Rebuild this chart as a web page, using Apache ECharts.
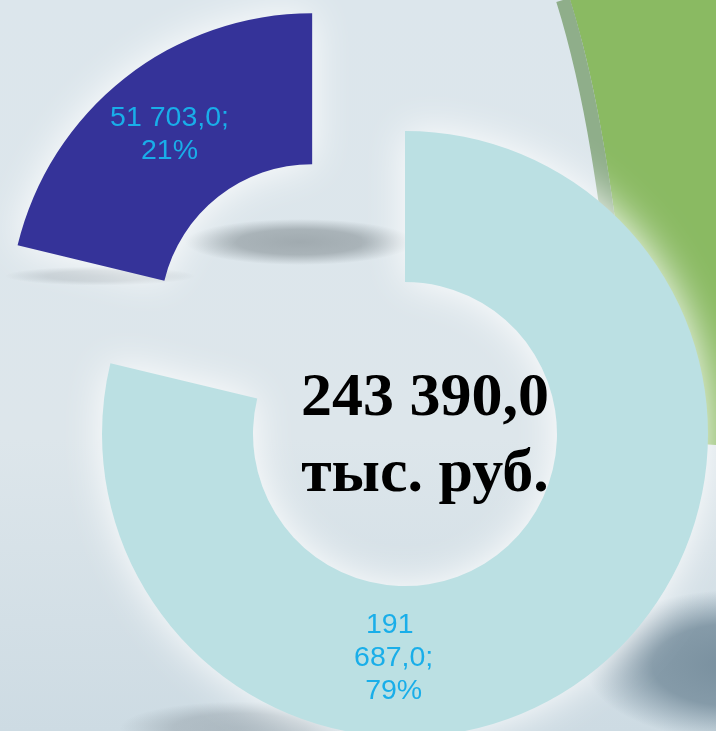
<!DOCTYPE html>
<html lang="ru">
<head>
<meta charset="UTF-8">
<title>Структура</title>
<style>
  html, body { margin: 0; padding: 0; }
  #main { width: 716px; height: 731px; }
</style>
</head>
<body>
<div id="main"></div>
<script src="https://cdn.jsdelivr.net/npm/echarts@6/dist/echarts.min.js"></script>
<script>
// data
const sliceNames = ['191 687,0', '51 703,0'];
const sliceValues = [191687.0, 51703.0];
const sliceColors = ['#bbe0e3', '#353399'];
const totalText = '243 390,0';
const unitText = 'тыс. руб.';

function fmt(v) {
    const parts = v.toFixed(1).split('.');
    return parts[0].replace(/\B(?=(\d{3})+(?!\d))/g, ' ') + ',' + parts[1];
}

// sample a cubic curve for the decorative green shape
function bez(p0, p1, p2, p3, n) {
    const pts = [];
    for (let i = 0; i <= n; i++) {
        const t = i / n, u = 1 - t;
        pts.push([
            u * u * u * p0[0] + 3 * u * u * t * p1[0] + 3 * u * t * t * p2[0] + t * t * t * p3[0],
            u * u * u * p0[1] + 3 * u * u * t * p1[1] + 3 * u * t * t * p2[1] + t * t * t * p3[1]
        ]);
    }
    return pts;
}
const greenEdge = bez([570, 0], [595, 80], [615, 180], [640, 440], 30);

// soft blurred blob (circle squashed vertically)
function blob(x, y, r, sy, rgb, a) {
    return {
        type: 'circle', z: 0, silent: true,
        x: x, y: y, scaleY: sy,
        shape: { cx: 0, cy: 0, r: r },
        style: {
            fill: {
                type: 'radial', x: 0.5, y: 0.5, r: 0.5,
                colorStops: [
                    { offset: 0, color: 'rgba(' + rgb + ',' + a + ')' },
                    { offset: 0.55, color: 'rgba(' + rgb + ',' + (a * 0.85) + ')' },
                    { offset: 1, color: 'rgba(' + rgb + ',0)' }
                ]
            }
        }
    };
}

const pieData = sliceValues.map((v, i) => ({
    name: sliceNames[i],
    value: v,
    selected: i === 1,
    itemStyle: { color: sliceColors[i] },
    label: i === 0 ? { width: 85, overflow: 'break' } : {}
}));

var myChart = echarts.init(document.getElementById('main'));
var option = {
    animation: false,
    backgroundColor: {
        type: 'linear', x: 0, y: 0, x2: 0, y2: 1,
        colorStops: [
            { offset: 0, color: '#dce6ec' },
            { offset: 0.6, color: '#dde6eb' },
            { offset: 1, color: '#cddbe3' }
        ]
    },
    graphic: [
        // green shape, top right
        {
            type: 'polygon', z: 0, silent: true,
            shape: { points: greenEdge.concat([[716, 445], [716, 0]]) },
            style: { fill: '#8aba62' }
        },
        {
            type: 'bezierCurve', z: 0, silent: true,
            shape: { x1: 563, y1: 0, cpx1: 588, cpy1: 80, cpx2: 608, cpy2: 180, x2: 633, y2: 440 },
            style: { fill: null, stroke: '#8fae8a', lineWidth: 14 }
        },
        // blue-grey smear, bottom right
        blob(735, 665, 150, 0.5, '120,143,158', 1),
        // soft shadows
        blob(240, 728, 120, 0.22, '150,162,170', 0.6),
        blob(300, 242, 115, 0.2, '150,160,165', 0.85),
        blob(100, 276, 95, 0.1, '170,180,186', 0.6),
        // total in the hole
        {
            type: 'text', z: 100, silent: true,
            x: 425, y: 437,
            style: {
                text: totalText + '\n' + unitText,
                fontFamily: '"Liberation Serif", "Times New Roman", serif',
                fontWeight: 'bold',
                fontSize: 62,
                lineHeight: 76,
                fill: '#000000',
                align: 'center',
                verticalAlign: 'middle'
            }
        }
    ],
    series: [
        {
            type: 'pie',
            center: [405, 434],
            radius: [152, 303],
            startAngle: 90,
            clockwise: true,
            selectedMode: 'single',
            selectedOffset: 150,
            silent: true,
            data: pieData,
            itemStyle: {
                shadowBlur: 40,
                shadowColor: 'rgba(255,255,255,1)'
            },
            select: { itemStyle: { color: sliceColors[1] } },
            label: {
                show: true,
                position: 'inside',
                color: '#19aee9',
                fontFamily: '"Liberation Sans", Arial, sans-serif',
                fontSize: 28.5,
                lineHeight: 33,
                align: 'center',
                formatter: function (p) {
                    return fmt(p.value) + ';\n' + Math.round(p.percent) + '%';
                }
            },
            labelLine: { show: false },
            labelLayout: function (p) {
                if (p.dataIndex === 0) {
                    return { dx: -154, dy: 43 };
                }
                return {};
            }
        }
    ]
};
option && myChart.setOption(option);
</script>
</body>
</html>
